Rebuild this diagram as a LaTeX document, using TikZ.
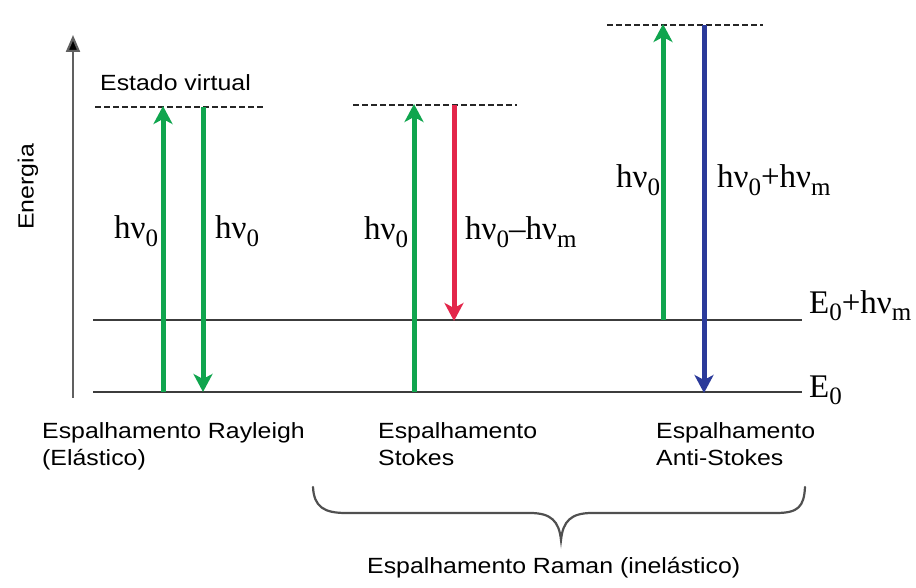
\documentclass[tikz,border=0pt]{standalone}
\usepackage{fontspec}
\usepackage{graphicx}
\setmainfont{Liberation Serif}
\newfontfamily\labelsans{Liberation Sans}
\usetikzlibrary{arrows.meta}

% subscript used in the photon-energy labels
\newcommand\lowidx[1]{\raisebox{-0.22em}{\fontsize{25}{25}\selectfont #1}}
% sans caption, slightly widened
\newcommand\captxt[1]{\scalebox{1.13}[1]{#1}}
% Greek nu, set in the text font
\newcommand\fnu{ν}

\definecolor{photongreen}{HTML}{10A54E}
\definecolor{photonred}{HTML}{E3264A}
\definecolor{photonblue}{HTML}{2B3A9A}
\definecolor{levelgray}{HTML}{3C3C3C}
\definecolor{axisgray}{HTML}{606060}

\begin{document}
\begin{tikzpicture}[x=1pt,y=-1pt,
  level/.style={draw=levelgray,line width=2.5pt},
  virtual/.style={draw=black!85,line width=1.7pt,dash pattern=on 6pt off 3pt},
  photon/.style={line width=5pt,-{Stealth[length=18pt,width=19pt,inset=5pt]}},
  sanslabel/.style={font=\labelsans\fontsize{22}{26}\selectfont,inner sep=0pt},
  eqlabel/.style={font=\fontsize{33}{37}\selectfont,inner sep=0pt},
]
\useasboundingbox (0,0) rectangle (916,588);
\clip (0,0) rectangle (916,588);

% energy axis
\coordinate (axb) at (73,398);
\coordinate (axt) at (73,35);
\draw[draw=axisgray,line width=2.2pt,-{Triangle[length=17pt,width=14pt,fill=black]}] (axb) -- (axt);
\node[sanslabel,rotate=90] (energia) at (28,187) {\captxt{Energia}};

% real energy levels
\coordinate (g0l) at (93,392);
\coordinate (g0r) at (802,392);
\coordinate (g1l) at (93,320);
\coordinate (g1r) at (802,320);
\draw[level] (g0l) -- (g0r);
\draw[level] (g1l) -- (g1r);
\node[eqlabel,anchor=base west] (lvE0) at (809,397) {E\lowidx{0}};
\node[eqlabel,anchor=base west] (lvE1) at (809,313) {E\lowidx{0}+h\fnu\lowidx{m}};

% virtual states
\coordinate (vRl) at (95,107);  \coordinate (vRr) at (265,107);
\coordinate (vSl) at (353,105); \coordinate (vSr) at (517,105);
\coordinate (vAl) at (607,25);  \coordinate (vAr) at (763,25);
\draw[virtual] (vRl) -- (vRr);
\draw[virtual] (vSl) -- (vSr);
\draw[virtual] (vAl) -- (vAr);
\node[sanslabel,anchor=base west] (estado) at (100,91) {\captxt{Estado virtual}};

% Rayleigh
\coordinate (r1b) at (163,392); \coordinate (r1t) at (163,106);
\coordinate (r2t) at (203,107); \coordinate (r2b) at (203,392);
\draw[photon,photongreen] (r1b) -- (r1t);
\draw[photon,photongreen] (r2t) -- (r2b);
\node[eqlabel,anchor=base west] (hr1) at (114,239) {h\fnu\lowidx{0}};
\node[eqlabel,anchor=base west] (hr2) at (215,239) {h\fnu\lowidx{0}};

% Stokes
\coordinate (s1b) at (414,392); \coordinate (s1t) at (414,104);
\coordinate (s2t) at (454,105); \coordinate (s2b) at (454,321);
\draw[photon,photongreen] (s1b) -- (s1t);
\draw[photon,photonred] (s2t) -- (s2b);
\node[eqlabel,anchor=base west] (hs1) at (364,240) {h\fnu\lowidx{0}};
\node[eqlabel,anchor=base west] (hs2) at (465,240) {h\fnu\lowidx{0}--h\fnu\lowidx{m}};

% anti-Stokes
\coordinate (a1b) at (663,320); \coordinate (a1t) at (663,24);
\coordinate (a2t) at (704,25);  \coordinate (a2b) at (704,393);
\draw[photon,photongreen] (a1b) -- (a1t);
\draw[photon,photonblue] (a2t) -- (a2b);
\node[eqlabel,anchor=base west] (ha1) at (616,188) {h\fnu\lowidx{0}};
\node[eqlabel,anchor=base west] (ha2) at (717,188) {h\fnu\lowidx{0}+h\fnu\lowidx{m}};

% process names
\node[sanslabel,anchor=base west] (ray1) at (42,438) {\captxt{Espalhamento Rayleigh}};
\node[sanslabel,anchor=base west] (ray2) at (42,465) {\captxt{(Elástico)}};
\node[sanslabel,anchor=base west] (sto1) at (378,438) {\captxt{Espalhamento}};
\node[sanslabel,anchor=base west] (sto2) at (378,465) {\captxt{Stokes}};
\node[sanslabel,anchor=base west] (ant1) at (656,438) {\captxt{Espalhamento}};
\node[sanslabel,anchor=base west] (ant2) at (656,465) {\captxt{Anti-Stokes}};

% brace grouping the Raman processes
\coordinate (brl) at (313,487);
\coordinate (brr) at (805,487);
\coordinate (brtip) at (561,540);
\draw[draw=levelgray!90,line width=2.2pt,line cap=round]
  (brl) .. controls (314,507) and (324,513) .. (346,513)
  -- (530,513) .. controls (551,513) and (559,521) .. (brtip)
  .. controls (563,521) and (571,513) .. (592,513)
  -- (776,513) .. controls (798,513) and (804,507) .. (brr);
\node[sanslabel,anchor=base west] (raman) at (367,573) {\captxt{Espalhamento Raman (inelástico)}};
\end{tikzpicture}
\end{document}
